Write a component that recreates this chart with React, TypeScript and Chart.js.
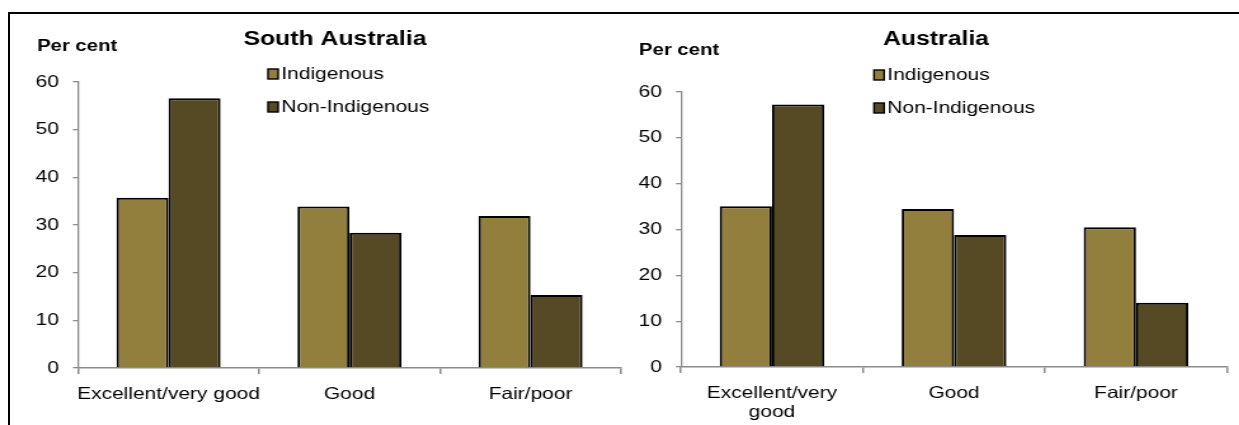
import React, { useEffect, useRef } from 'react';
import { Chart, registerables } from 'chart.js';

Chart.register(...registerables);

// ---- data ----
const seriesLabels = ['Indigenous', 'Non-Indigenous'];
const categoriesSA: (string | string[])[] = ['Excellent/very good', 'Good', 'Fair/poor'];
const categoriesAus: (string | string[])[] = [['Excellent/very', 'good'], 'Good', 'Fair/poor'];
const indigenousSA = [35.7, 33.9, 31.9];
const nonIndigenousSA = [56.6, 28.4, 15.3];
const indigenousAus = [35.1, 34.5, 30.5];
const nonIndigenousAus = [57.3, 28.8, 14.0];
const yMin = 0;
const yMax = 60;
const yStep = 10;
const titleSA = 'South Australia';
const titleAus = 'Australia';
const yAxisTitle = 'Per cent';

const COLORS = ['#927E3D', '#564A24'];
const FONT = "'Liberation Sans', Arial, Helvetica, sans-serif";
const AXIS_GREY = '#8c8c8c';
const H = 425;
// the reference artwork is stretched horizontally
const STRETCH = 1.27;

type Panel = {
  title: string;
  categories: (string | string[])[];
  a: number[];
  b: number[];
  left: number; // css px
  width: number; // css px
  plotLeft: number; // absolute css px
  plotRight: number;
  plotTop: number;
  plotBottom: number;
  titleX: number;
  titleY: number;
  perX: number;
  perY: number;
  legX: number;
  legY: number[];
};

const panelTextPlugin = {
  id: 'panelText',
  afterDraw(chart: any, _args: any, opts: any) {
    const ctx = chart.ctx;
    ctx.save();
    ctx.fillStyle = '#000';
    ctx.textBaseline = 'middle';
    ctx.font = `bold 19.5px ${FONT}`;
    ctx.textAlign = 'center';
    ctx.fillText(opts.title, opts.titleX, opts.titleY);
    ctx.font = `bold 16px ${FONT}`;
    ctx.textAlign = 'left';
    ctx.fillText(opts.perCent, opts.perX, opts.perY);
    ctx.font = `16.5px ${FONT}`;
    chart.data.datasets.forEach((ds: any, i: number) => {
      const y = opts.legY[i];
      ctx.fillStyle = ds.backgroundColor;
      ctx.fillRect(opts.legX, y - 5, 8, 10);
      ctx.strokeStyle = '#000';
      ctx.lineWidth = 1.4;
      ctx.strokeRect(opts.legX, y - 5, 8, 10);
      ctx.fillStyle = '#000';
      ctx.fillText(ds.label, opts.legX + 10.5, y + 0.5);
    });
    ctx.restore();
  },
};

function BarPanel({ p }: { p: Panel }) {
  const ref = useRef<HTMLCanvasElement>(null);
  const iw = Math.round(p.width / STRETCH);
  const sx = p.width / iw;
  const toX = (abs: number) => (abs - p.left) / sx;
  useEffect(() => {
    if (!ref.current) return;
    const plotLeft = toX(p.plotLeft);
    const plotRight = toX(p.plotRight);
    const chart = new Chart(ref.current, {
      type: 'bar',
      data: {
        labels: p.categories as any,
        datasets: [
          {
            label: seriesLabels[0],
            data: p.a,
            backgroundColor: COLORS[0],
            borderColor: '#000',
            borderWidth: 2,
            borderSkipped: 'start',
            categoryPercentage: 0.575,
            barPercentage: 1.0,
          },
          {
            label: seriesLabels[1],
            data: p.b,
            backgroundColor: COLORS[1],
            borderColor: '#000',
            borderWidth: 2,
            borderSkipped: 'start',
            categoryPercentage: 0.575,
            barPercentage: 1.0,
          },
        ],
      },
      options: {
        responsive: false,
        animation: false,
        devicePixelRatio: 1,
        layout: {
          padding: { left: 0, top: p.plotTop, right: iw - plotRight, bottom: 0 },
        },
        plugins: {
          legend: { display: false },
          title: { display: false },
          tooltip: { enabled: false },
          panelText: {
            title: p.title,
            titleX: toX(p.titleX),
            titleY: p.titleY,
            perCent: yAxisTitle,
            perX: toX(p.perX),
            perY: p.perY,
            legX: toX(p.legX),
            legY: p.legY,
          },
        } as any,
        scales: {
          x: {
            type: 'category',
            offset: true,
            grid: {
              offset: true,
              drawOnChartArea: false,
              drawTicks: true,
              tickLength: 6,
              color: AXIS_GREY,
              lineWidth: 1.5,
            },
            border: { display: true, color: AXIS_GREY, width: 1.5 },
            ticks: {
              color: '#000',
              font: { family: FONT, size: 16.5, lineHeight: 1.15 },
              padding: 11,
              maxRotation: 0,
              autoSkip: false,
            },
            afterFit: (scale: any) => {
              scale.height = H - p.plotBottom;
            },
          },
          y: {
            min: yMin,
            max: yMax,
            grid: {
              drawOnChartArea: false,
              drawTicks: true,
              tickLength: 4,
              color: AXIS_GREY,
              lineWidth: 1.3,
            },
            border: { display: true, color: AXIS_GREY, width: 1.3 },
            ticks: {
              stepSize: yStep,
              color: '#000',
              font: { family: FONT, size: 16.5 },
              padding: 11,
            },
            afterFit: (scale: any) => {
              scale.width = plotLeft;
            },
          },
        },
      },
      plugins: [panelTextPlugin],
    });
    return () => chart.destroy();
  }, [p]);
  return (
    <canvas
      ref={ref}
      width={iw}
      height={H}
      style={{ position: 'absolute', left: p.left, top: 0, width: p.width, height: H }}
    />
  );
}

const panelSA: Panel = {
  title: titleSA,
  categories: categoriesSA,
  a: indigenousSA,
  b: nonIndigenousSA,
  left: 0,
  width: 630,
  plotLeft: 78,
  plotRight: 621,
  plotTop: 82,
  plotBottom: 368,
  titleX: 335,
  titleY: 40,
  perX: 37,
  perY: 47,
  legX: 268,
  legY: [74, 107],
};

const panelAus: Panel = {
  title: titleAus,
  categories: categoriesAus,
  a: indigenousAus,
  b: nonIndigenousAus,
  left: 630,
  width: 609,
  plotLeft: 681,
  plotRight: 1227,
  plotTop: 92,
  plotBottom: 367,
  titleX: 936,
  titleY: 40,
  perX: 639,
  perY: 51,
  legX: 874,
  legY: [75, 108],
};

export default function App() {
  return (
    <div
      style={{
        position: 'fixed',
        left: 0,
        top: 0,
        width: 1239,
        height: H,
        overflow: 'hidden',
        background: '#fff',
      }}
    >
      <BarPanel p={panelSA} />
      <BarPanel p={panelAus} />
      <div
        style={{
          position: 'absolute',
          left: 8,
          top: 12,
          width: 1260,
          height: 440,
          borderTop: '2px solid #000',
          borderLeft: '2px solid #000',
          boxSizing: 'border-box',
          pointerEvents: 'none',
        }}
      />
    </div>
  );
}
